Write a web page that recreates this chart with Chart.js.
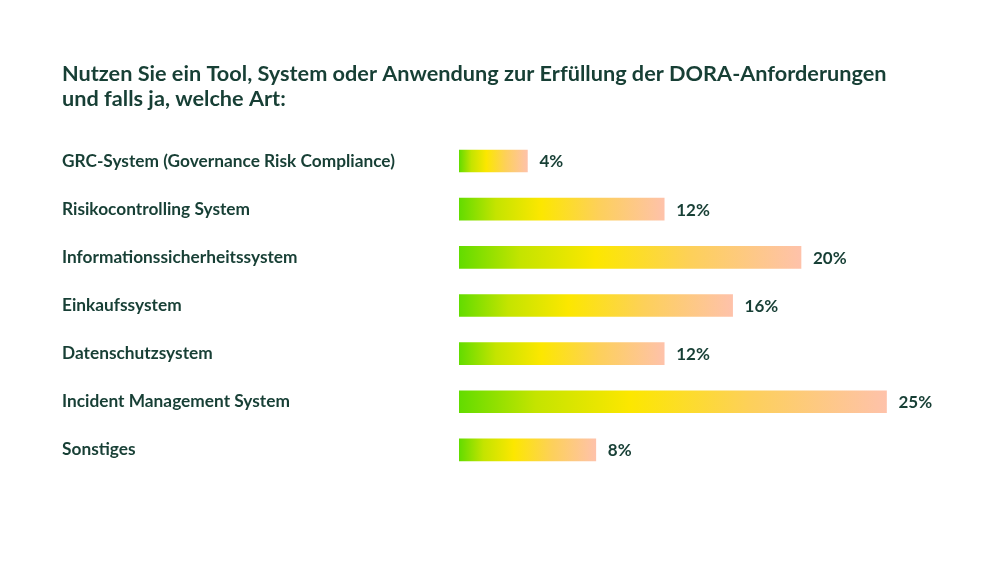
<!DOCTYPE html>
<html>
<head>
<meta charset="utf-8">
<script src="https://cdn.jsdelivr.net/npm/chart.js@4"></script>
<style>
  html, body { margin: 0; padding: 0; background: #fff; }
  #wrap { width: 1000px; height: 563px; }
</style>
</head>
<body>
<div id="wrap"><canvas id="doraChart"></canvas></div>
<script>
// ----- Data -----
const categories = [
  "GRC-System (Governance Risk Compliance)",
  "Risikocontrolling System",
  "Informationssicherheitssystem",
  "Einkaufssystem",
  "Datenschutzsystem",
  "Incident Management System",
  "Sonstiges"
];
const shares = [4, 12, 20, 16, 12, 25, 8];
const titleLines = [
  "Nutzen Sie ein Tool, System oder Anwendung zur Erfüllung der DORA-Anforderungen",
  "und falls ja, welche Art:"
];

// ----- Style -----
const TEXT = "#173f35";
const FONT = "Lato, 'Open Sans', sans-serif";

// gradient per bar, from its base to its tip
function barFill(context) {
  const chart = context.chart;
  if (!chart.chartArea) return "#f5e000";
  const x = chart.scales.x;
  const v = context.raw || 0;
  const x0 = x.getPixelForValue(0);
  const x1 = x.getPixelForValue(v);
  const g = chart.ctx.createLinearGradient(x0, 0, x1, 0);
  g.addColorStop(0, "#62dc00");
  g.addColorStop(0.18, "#c4e400");
  g.addColorStop(0.4, "#fce700");
  g.addColorStop(0.68, "#fdd05a");
  g.addColorStop(1, "#fec2aa");
  return g;
}

// ----- Value labels -----
const valueLabels = {
  id: "valueLabels",
  afterDatasetsDraw(chart) {
    const { ctx } = chart;
    const meta = chart.getDatasetMeta(0);
    ctx.save();
    ctx.font = "700 17px " + FONT;
    ctx.fillStyle = TEXT;
    ctx.textBaseline = "middle";
    ctx.textAlign = "left";
    meta.data.forEach((bar, i) => {
      ctx.fillText(shares[i] + "%", bar.x + 12, bar.y + 1);
    });
    ctx.restore();
  }
};

const chart = new Chart(document.getElementById("doraChart"), {
  type: "bar",
  data: {
    labels: categories,
    datasets: [{
      data: shares,
      backgroundColor: barFill,
      borderWidth: 0,
      barThickness: 22
    }]
  },
  options: {
    indexAxis: "y",
    animation: false,
    responsive: true,
    maintainAspectRatio: false,
    layout: { padding: { left: 62, right: 28, top: 62, bottom: 89 } },
    plugins: {
      legend: { display: false },
      tooltip: { enabled: false },
      title: {
        display: true,
        text: titleLines,
        align: "start",
        color: TEXT,
        font: { family: FONT, size: 21.7, weight: "700", lineHeight: 1.15 },
        padding: { top: 0, bottom: 25 }
      }
    },
    scales: {
      x: {
        min: 0,
        max: 30,
        display: false,
        grid: { display: false }
      },
      y: {
        grid: { display: false },
        border: { display: false },
        afterFit(scale) { scale.width = 397; },
        ticks: {
          crossAlign: "far",
          color: TEXT,
          padding: 0,
          font: { family: FONT, size: 17.3, weight: "700" }
        }
      }
    }
  },
  plugins: [valueLabels]
});
</script>
</body>
</html>
